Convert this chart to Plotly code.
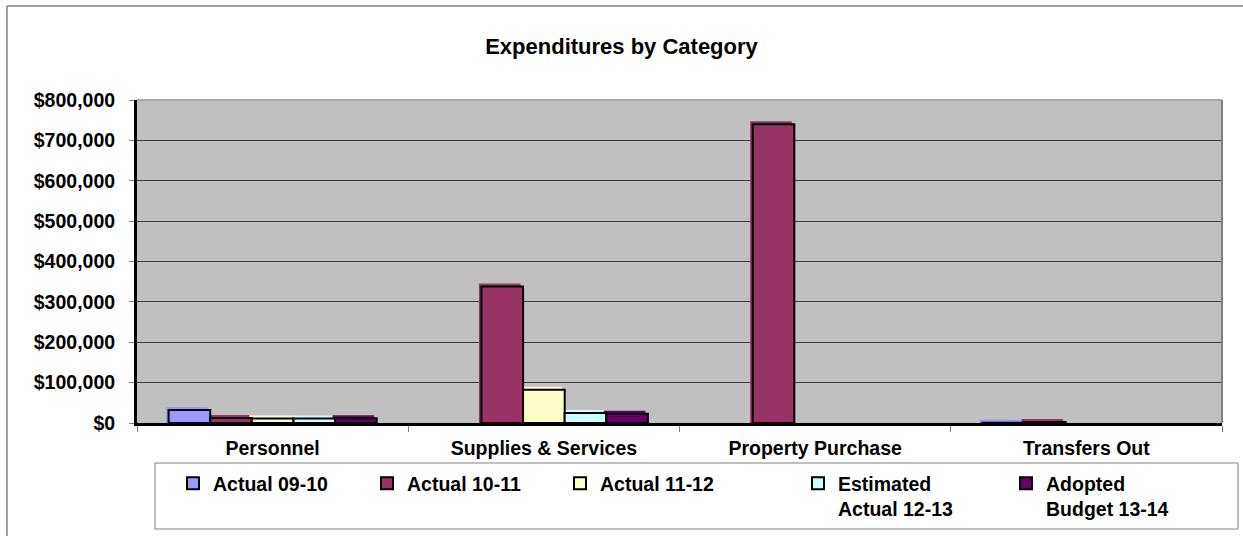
import plotly.graph_objects as go

# ---- data -------------------------------------------------------------
categories = ["Personnel", "Supplies & Services", "Property Purchase", "Transfers Out"]
series_names = [
    "Actual 09-10",
    "Actual 10-11",
    "Actual 11-12",
    "Estimated<br>Actual 12-13",
    "Adopted<br>Budget 13-14",
]
actual_09_10 = [32000, 0, 0, 800]
actual_10_11 = [12500, 338000, 740000, 2500]
actual_11_12 = [11000, 82500, 0, 0]
estimated_actual_12_13 = [11000, 24500, 0, 0]
adopted_budget_13_14 = [12000, 23000, 0, 0]
y_tick_values = [0, 100000, 200000, 300000, 400000, 500000, 600000, 700000, 800000]

series_values = [actual_09_10, actual_10_11, actual_11_12,
                 estimated_actual_12_13, adopted_budget_13_14]
series_colors = ["#9999FF", "#993366", "#FFFFCC", "#CCFFFF", "#660066"]
legend_widths = [149, 148, 193, 163, 150]

# ---- geometry ---------------------------------------------------------
W, H = 1243, 536
ML, MR, MT, MB = 137, 21, 100, 113
PW, PH = W - ML - MR, H - MT - MB
Y_MAX = 800000

px_x = len(categories) / PW      # category units per pixel
px_y = Y_MAX / PH                # dollars per pixel

group_w = 0.767
bar_w = group_w / len(series_values)

FONT = "Liberation Sans, Arial, sans-serif"


def paper_x(px):
    return (px - ML) / PW


def paper_y(py):
    return (H - MB - py) / PH


fig = go.Figure()

# raised back face of each column (offset up and to the left)
for i, (vals, color) in enumerate(zip(series_values, series_colors)):
    off = -group_w / 2 + i * bar_w
    fig.add_trace(go.Bar(
        x=categories,
        y=[v + 3 * px_y if v > 0 else None for v in vals],
        offset=off - 2.5 * px_x,
        width=bar_w,
        marker=dict(color=color, line=dict(width=0)),
        showlegend=False,
        hoverinfo="skip",
    ))

# front face of each column with dark outline
for i, (name, vals, color, lw) in enumerate(
        zip(series_names, series_values, series_colors, legend_widths)):
    off = -group_w / 2 + i * bar_w
    fig.add_trace(go.Bar(
        x=categories,
        y=[v if v > 0 else None for v in vals],
        name=name,
        offset=off,
        width=bar_w,
        marker=dict(color=color, line=dict(color="black", width=2)),
        legendwidth=lw,
    ))

shapes = [
    # chart area border
    dict(type="line", xref="paper", yref="paper",
         x0=paper_x(7), x1=paper_x(W + 5), y0=paper_y(6), y1=paper_y(6),
         line=dict(color="#808080", width=1.5)),
    dict(type="line", xref="paper", yref="paper",
         x0=paper_x(7), x1=paper_x(7), y0=paper_y(6), y1=paper_y(H + 5),
         line=dict(color="#808080", width=1.5)),
    # plot area top and right edges
    dict(type="line", xref="paper", yref="paper",
         x0=0, x1=1, y0=1, y1=1, line=dict(color="#a8a8a8", width=2), layer="above"),
    dict(type="line", xref="paper", yref="paper",
         x0=1, x1=1, y0=0, y1=1, line=dict(color="#808080", width=2), layer="above"),
    # legend frame
    dict(type="rect", xref="paper", yref="paper",
         x0=paper_x(155), x1=paper_x(1238), y0=paper_y(529), y1=paper_y(463),
         line=dict(color="#808080", width=1), fillcolor="white", layer="below"),
]

fig.update_layout(
    width=W, height=H,
    margin=dict(l=ML, r=MR, t=MT, b=MB, autoexpand=False),
    paper_bgcolor="white",
    plot_bgcolor="#C0C0C0",
    barmode="overlay",
    font=dict(family=FONT, color="black"),
    title=dict(
        text="Expenditures by Category",
        x=0.5, xanchor="center",
        y=1 - 46 / H, yanchor="middle",
        font=dict(family=FONT, size=22, color="black", weight="bold"),
    ),
    showlegend=True,
    legend=dict(
        orientation="h",
        x=paper_x(173), xanchor="left",
        y=paper_y(464), yanchor="top",
        valign="top",
        bgcolor="rgba(0,0,0,0)",
        borderwidth=0,
        font=dict(family=FONT, size=19.5, color="black", weight="bold"),
        traceorder="normal",
    ),
    shapes=shapes,
    xaxis=dict(
        type="category",
        range=[-0.5, len(categories) - 0.5],
        showgrid=False,
        showline=True, linecolor="black", linewidth=3,
        ticks="outside", tickson="boundaries", ticklen=6,
        tickcolor="#808080", tickwidth=1,
        ticklabelstandoff=6,
        tickfont=dict(family=FONT, size=19.5, color="black", weight="bold"),
        fixedrange=True,
    ),
    yaxis=dict(
        range=[0, Y_MAX],
        tickvals=y_tick_values,
        tickformat="$,.0f",
        showgrid=True, gridcolor="#3c3c3c", gridwidth=1,
        zeroline=False,
        showline=True, linecolor="black", linewidth=3,
        ticks="outside", ticklen=5, tickcolor="#808080", tickwidth=1,
        ticklabelstandoff=10,
        tickfont=dict(family=FONT, size=19.5, color="black", weight="bold"),
        fixedrange=True,
    ),
)

fig.write_html("out.html")
